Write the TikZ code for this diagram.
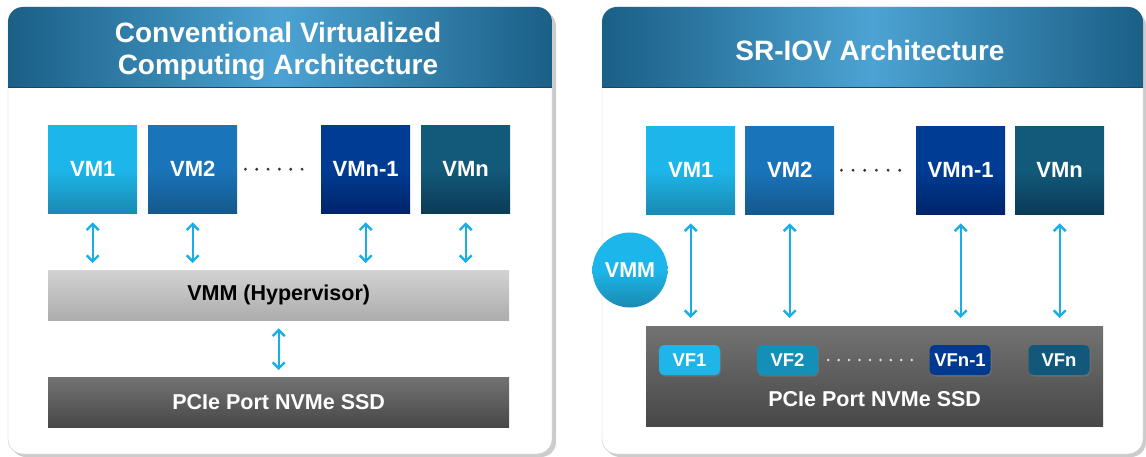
\documentclass[tikz,border=0pt]{standalone}
\usepackage{xcolor}
\usepackage{fontspec}
\setmainfont{Liberation Sans}
\usepackage{tikz}
\usetikzlibrary{arrows.meta}
\usetikzlibrary{shadows}

\definecolor{hdlight}{HTML}{4CA3D3}
\definecolor{hddark}{HTML}{1A5F86}
\definecolor{hdline}{HTML}{0E4A6E}
\definecolor{vmAtop}{HTML}{1DB6EA}
\definecolor{vmAbot}{HTML}{1A8AB2}
\definecolor{vmBtop}{HTML}{1A74B9}
\definecolor{vmBbot}{HTML}{15588C}
\definecolor{vmCtop}{HTML}{003C93}
\definecolor{vmCbot}{HTML}{00246A}
\definecolor{vmDtop}{HTML}{12597A}
\definecolor{vmDbot}{HTML}{0B3B56}
\definecolor{linkblue}{HTML}{1AAEE6}
\definecolor{vfA}{HTML}{1FB5E9}
\definecolor{vfB}{HTML}{1490B8}
\definecolor{vfC}{HTML}{003A90}
\definecolor{vfD}{HTML}{11587A}

\begin{document}
\begin{tikzpicture}[x=1pt, y=-1pt,
		panel/.style={draw=gray!45, fill=white, rounded corners=15pt},
		panelshadow/.style={fill=gray!40, rounded corners=15pt},
		title/.style={text=white, align=center, font=\bfseries\fontsize{28}{32}\selectfont},
		vmbox/.style={minimum width=89pt, minimum height=88pt, inner sep=0pt, anchor=north west,
			text=white, font=\bfseries\fontsize{22}{24}\selectfont},
		vfbox/.style={minimum width=61pt, minimum height=30pt, inner sep=0pt, rounded corners=5pt,
			text=white, font=\bfseries\fontsize{18.5}{20}\selectfont,
			drop shadow={opacity=0.45, shadow xshift=1pt, shadow yshift=-1.5pt}},
		bar/.style={minimum width=461pt, inner sep=0pt, anchor=north west,
			font=\bfseries\fontsize{21.5}{23}\selectfont},
		link/.style={{Straight Barb[length=6pt, width=12pt]}-{Straight Barb[length=6pt, width=12pt]},
			line width=2.4pt, draw=linkblue, shorten <=8pt, shorten >=7pt},
		dots/.style={line width=3.2pt, line cap=round, draw=black!80}
	]
	\useasboundingbox (0,0) rectangle (1146,457);

	% left panel
	\fill[panelshadow] (11,11) rectangle (556,457);
	\path[panel] (8,7) rectangle (552,454);
	\begin{scope}
		\clip[rounded corners=15pt] (8,7) rectangle (552,454);
		\shade[left color=hddark, right color=hddark, middle color=hdlight] (8,7) rectangle (552,88);
	\end{scope}
	\draw[hdline, line width=1pt] (8,88) -- (552,88);
	\node[title] (l-title) at (278,51) {Conventional Virtualized\\Computing Architecture};

	\node[vmbox, top color=vmAtop, bottom color=vmAbot, middle color=vmAtop] (l-vm1) at (48,125) {VM1};
	\node[vmbox, top color=vmBtop, bottom color=vmBbot, middle color=vmBtop] (l-vm2) at (148,125) {VM2};
	\node[vmbox, top color=vmCtop, bottom color=vmCbot, middle color=vmCtop] (l-vmn1) at (321,125) {VMn-1};
	\node[vmbox, top color=vmDtop, bottom color=vmDbot, middle color=vmDtop] (l-vmn) at (421,125) {VMn};
	\draw[dots, dash pattern=on 0pt off 11.33pt, shorten <=8pt, shorten >=8pt] (l-vm2) -- (l-vmn1);

	\node[bar, minimum height=50pt, top color=gray!35, bottom color=gray!65, text=black] (l-vmm) at (48,270) {VMM (Hypervisor)};
	\node[bar, minimum height=50pt, top color=black!55, bottom color=black!72, text=white] (l-ssd) at (48,377) {PCIe Port NVMe SSD};

	\foreach \vm in {vm1, vm2, vmn1, vmn}
		\draw[link, shorten <=9pt] (l-\vm.south) -- (l-\vm.south |- l-vmm.north);
	\draw[link] (l-vmm) -- (l-ssd);

	% right panel
	\fill[panelshadow] (605,11) rectangle (1146,457);
	\path[panel] (602,7) rectangle (1143,454);
	\begin{scope}
		\clip[rounded corners=15pt] (602,7) rectangle (1143,454);
		\shade[left color=hddark, right color=hddark, middle color=hdlight] (602,7) rectangle (1143,88);
	\end{scope}
	\draw[hdline, line width=1pt] (602,88) -- (1143,88);
	\node[title] (r-title) at (870,50) {SR-IOV Architecture};

	\node[vmbox, top color=vmAtop, bottom color=vmAbot, middle color=vmAtop] (r-vm1) at (646,126) {VM1};
	\node[vmbox, top color=vmBtop, bottom color=vmBbot, middle color=vmBtop] (r-vm2) at (745,126) {VM2};
	\node[vmbox, top color=vmCtop, bottom color=vmCbot, middle color=vmCtop] (r-vmn1) at (916,126) {VMn-1};
	\node[vmbox, top color=vmDtop, bottom color=vmDbot, middle color=vmDtop] (r-vmn) at (1015,126) {VMn};
	\draw[dots, dash pattern=on 0pt off 11.67pt, shorten <=7pt, shorten >=7pt] (r-vm2) -- (r-vmn1);

	\node[bar, minimum width=457pt, minimum height=100pt, top color=black!55, bottom color=black!72] (r-ssd) at (646,326) {};
	\node[text=white, font=\bfseries\fontsize{21.5}{23}\selectfont] (r-ssd-label) at ([yshift=27pt]r-ssd.south) {PCIe Port NVMe SSD};

	\node[vfbox, fill=vfA] (r-vf1) at (689.5,360) {VF1};
	\node[vfbox, fill=vfB] (r-vf2) at (787.5,360) {VF2};
	\node[vfbox, fill=vfC] (r-vfn1) at (960,360) {VFn-1};
	\node[vfbox, fill=vfD] (r-vfn) at (1059,360) {VFn};
	\draw[dots, line width=2.8pt, draw=white!88!black, dash pattern=on 0pt off 10.44pt, shorten <=10pt, shorten >=8pt] (r-vf2) -- (r-vfn1);

	\foreach \vm in {vm1, vm2, vmn1, vmn}
		\draw[link, shorten <=9pt, shorten >=8pt] (r-\vm.south) -- (r-\vm.south |- r-ssd.north);

	\node[circle, minimum size=75pt, inner sep=0pt, top color=vmAtop, bottom color=vmAbot, middle color=vmAtop,
		text=white, font=\bfseries\fontsize{21.5}{23}\selectfont] (r-vmm) at (630,270) {VMM};
\end{tikzpicture}
\end{document}
